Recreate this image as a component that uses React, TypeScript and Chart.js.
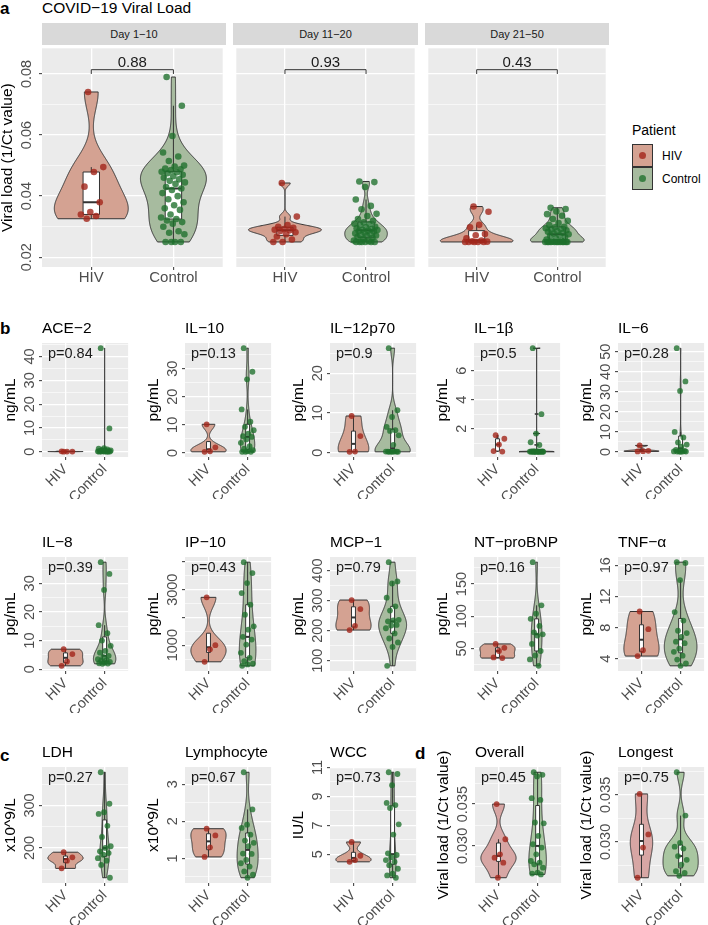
import React, { useEffect, useRef } from 'react';
import { Chart, registerables } from 'chart.js';

Chart.register(...registerables);

const FONT = '"Liberation Sans", Arial, Helvetica, sans-serif';
const GROUPS = ['HIV', 'Control'];

// ---------- panel a : COVID-19 viral load ----------
const FACET_LABELS = ['Day 1−10', 'Day 11−20', 'Day 21−50'];
const FACET_P = ['0.88', '0.93', '0.43'];
const VL_TICKS = [0.02, 0.04, 0.06, 0.08];
const VL_TICK_LABELS = ['0.02', '0.04', '0.06', '0.08'];
const VL_RANGE = [0.0168, 0.0884];

const D1_HIV = [0.0741, 0.0495, 0.0479, 0.0431, 0.038, 0.0348, 0.034, 0.0335, 0.0326];
const D1_CONTROL = [0.079, 0.0696, 0.0597, 0.0543, 0.053, 0.0515, 0.05, 0.0497, 0.049, 0.0488, 0.0485, 0.048, 0.0478, 0.0475, 0.047, 0.0465, 0.046, 0.0455, 0.045, 0.0445, 0.044, 0.043, 0.0425, 0.042, 0.041, 0.04, 0.039, 0.038, 0.037, 0.036, 0.0355, 0.034, 0.033, 0.0325, 0.032, 0.0315, 0.031, 0.03, 0.0285, 0.028, 0.0275, 0.025, 0.025, 0.025, 0.025];
const D2_HIV = [0.0443, 0.0333, 0.0305, 0.03, 0.0296, 0.0292, 0.029, 0.0288, 0.0286, 0.0282, 0.0275, 0.0268, 0.0258, 0.025, 0.025];
const D2_CONTROL = [0.0448, 0.0446, 0.043, 0.0389, 0.0368, 0.0357, 0.0342, 0.0335, 0.0325, 0.0319, 0.0314, 0.031, 0.0308, 0.0305, 0.03, 0.0298, 0.0295, 0.0292, 0.029, 0.0289, 0.0287, 0.0285, 0.0284, 0.028, 0.0278, 0.0276, 0.0273, 0.0271, 0.027, 0.0266, 0.0264, 0.026, 0.0255, 0.0252, 0.025, 0.025, 0.025, 0.025, 0.025, 0.025];
const D3_HIV = [0.0366, 0.0349, 0.0306, 0.0298, 0.0276, 0.0272, 0.0262, 0.0255, 0.0252, 0.0251, 0.025, 0.025, 0.025, 0.025, 0.025];
const D3_CONTROL = [0.0362, 0.0358, 0.035, 0.0341, 0.0336, 0.0325, 0.0319, 0.0312, 0.0305, 0.03, 0.0298, 0.0295, 0.0292, 0.029, 0.0288, 0.0286, 0.0283, 0.028, 0.0278, 0.0275, 0.0272, 0.027, 0.0266, 0.0262, 0.0258, 0.0254, 0.0251, 0.025, 0.025, 0.025, 0.025, 0.025, 0.025, 0.025, 0.025, 0.025, 0.025, 0.025, 0.025];

// ---------- panel b : cytokines ----------
const ACE2_HIV = [0.05, 0.1, 0.12, 0.2];
const ACE2_CONTROL = [43.5, 9.8, 1.5, 1.3, 1.0, 0.8, 0.6, 0.5, 0.4, 0.3, 0.25, 0.2, 0.15, 0.1, 0.1, 0.05, 0.05, 0.0];
const ACE2_TICKS = [0, 10, 20, 30, 40];
const IL10_HIV = [10.2, 2.0, 0.6, 0.4];
const IL10_CONTROL = [37.3, 28.9, 26.2, 15.5, 11.1, 9.3, 8.1, 6.9, 6.0, 5.7, 4.8, 3.6, 2.4, 1.5, 1.0, 0.6, 0.4, 0.4, 0.4];
const IL10_TICKS = [0, 10, 20, 30];
const IL12_HIV = [9.25, 4.2, 0.3, 0.25];
const IL12_CONTROL = [26.3, 10.7, 9.0, 6.5, 5.7, 5.5, 4.4, 2.0, 0.3, 0.3, 0.3, 0.3, 0.3, 0.25, 0.25, 0.25];
const IL12_TICKS = [0, 10, 20];
const IL1B_HIV = [1.55, 1.3, 0.9, 0.45, 0.42];
const IL1B_CONTROL = [7.55, 3.0, 1.66, 1.06, 0.87, 0.428, 0.426, 0.424, 0.422, 0.42, 0.418, 0.416, 0.414, 0.412, 0.41, 0.41, 0.408, 0.406, 0.404, 0.402, 0.4];
const IL1B_TICKS = [2, 4, 6];
const IL6_HIV = [3.3, 0.6, 0.4, 0.3];
const IL6_CONTROL = [51.8, 35.2, 30.5, 10.0, 7.3, 4.8, 3.7, 2.7, 1.0, 0.5, 0.3, 0.3, 0.2, 0.2, 0.2, 0.1];
const IL6_TICKS = [0, 10, 20, 30, 40, 50];
const IL8_HIV = [7.0, 5.3, 2.7, 1.2];
const IL8_CONTROL = [37.4, 33.3, 27.7, 15.4, 12.6, 10.0, 8.2, 6.4, 5.8, 4.7, 4.2, 3.5, 3.2, 3.0, 2.6, 2.3, 2.1, 2.0, 1.9];
const IL8_TICKS = [0, 10, 20, 30];
const IP10_HIV = [2725, 1000, 850, 400];
const IP10_CONTROL = [3994, 3600, 3240, 2880, 2460, 2100, 1680, 1560, 1300, 1200, 1020, 725, 545, 425, 330, 305, 255];
const IP10_TICKS = [1000, 2000, 3000, 4000];
const IP10_TICK_LABELS = ['1000', '', '3000', ''];
const MCP1_HIV = [302, 272, 216, 202];
const MCP1_CONTROL = [428, 364, 357, 310, 281, 267, 236, 234, 231, 219, 217, 208, 191, 174, 161, 146, 83];
const MCP1_TICKS = [100, 200, 300, 400];
const NTPRO_HIV = [57, 51, 46, 36, 35];
const NTPRO_CONTROL = [184, 117, 104, 96, 85, 75, 72, 70, 57, 46, 39, 33, 23];
const NTPRO_TICKS = [50, 100, 150];
const TNF_HIV = [10.07, 7.8, 5.1, 4.35];
const TNF_CONTROL = [16.4, 16.3, 14.1, 10.0, 8.9, 7.6, 7.3, 6.8, 6.2, 6.0, 5.3, 4.9, 4.4, 3.9, 3.4, 3.1];
const TNF_TICKS = [4, 8, 12, 16];

// ---------- panel c : clinical ----------
const LDH_HIV = [190, 178, 170, 152];
const LDH_CONTROL = [378, 304, 284, 280, 252, 226, 204, 200, 192, 188, 184, 176, 170, 160, 130];
const LDH_TICKS = [200, 300];
const LYMPH_HIV = [1.8, 1.62, 1.3, 1.04];
const LYMPH_CONTROL = [3.32, 2.32, 1.91, 1.82, 1.64, 1.48, 1.42, 1.33, 1.13, 1.12, 0.96, 0.87, 0.78, 0.65, 0.56, 0.48];
const LYMPH_TICKS = [1, 2, 3];
const WCC_HIV = [5.85, 4.9, 4.6, 4.48];
const WCC_CONTROL = [10.67, 10.55, 9.78, 8.55, 8.4, 8.2, 7.07, 6.36, 5.07, 4.95, 4.8, 4.6, 4.48, 4.25, 4.0, 3.66, 3.54, 3.38];
const WCC_TICKS = [5, 7, 9, 11];

// ---------- panel d : viral load summary ----------
const OVERALL_HIV = [0.035, 0.0308, 0.029, 0.0286, 0.028, 0.0262];
const OVERALL_CONTROL = [0.0388, 0.0385, 0.0383, 0.0357, 0.0355, 0.0328, 0.0327, 0.0312, 0.0302, 0.0298, 0.029, 0.0282, 0.028, 0.0278, 0.0274, 0.0268, 0.0267, 0.0266];
const OVERALL_TICKS = [0.03, 0.035];
const OVERALL_TICK_LABELS = ['0.030', '0.035'];
const LONGEST_HIV = [0.0351, 0.0308, 0.0294, 0.0262];
const LONGEST_CONTROL = [0.0374, 0.0328, 0.0299, 0.0295, 0.0293, 0.0285, 0.0281, 0.0276, 0.0269, 0.0267, 0.0264];
const LONGEST_TICKS = [0.03, 0.035];
const LONGEST_TICK_LABELS = ['0.030', '0.035'];

// ---------- styles ----------
const PANEL_BG = '#EBEBEB';
const HIV_FILL = '#D4A292';
const CTRL_FILL = '#A7BB9F';
const HIV_FILL_D = '#D7A6A4';
const CTRL_FILL_D = '#A9C6A1';
const HIV_PT = 'rgba(163,38,26,0.8)';
const CTRL_PT = 'rgba(30,112,44,0.78)';
const LINE = '#333333';
const TICK_TEXT = '#4D4D4D';

type Spec = {
  key: string;
  left: number; top: number; width: number; height: number;
  yw: number; xh: number; topPad: number;
  title?: string; unit?: string; pText?: string; bracket?: string;
  hiv: number[]; control: number[];
  ticks: number[]; tickLabels: string[];
  yMin: number; yMax: number;
  rot: number; boxW: number; pointR: number; jitterW: number;
  hivFill: string; ctrlFill: string; showY: boolean;
  xFont: number; yFont: number; labOff: number; titleOff: number;
};

// ---------- statistics helpers (computed from the data arrays) ----------
function quantile(sorted: number[], p: number) {
  const h = (sorted.length - 1) * p;
  const lo = Math.floor(h);
  const hi = Math.ceil(h);
  return sorted[lo] + (h - lo) * (sorted[hi] - sorted[lo]);
}
function bwNrd0(x: number[]) {
  const n = x.length;
  const m = x.reduce((s, v) => s + v, 0) / n;
  const sd = Math.sqrt(x.reduce((s, v) => s + (v - m) * (v - m), 0) / (n - 1));
  const s = [...x].sort((a, b) => a - b);
  const iqr = quantile(s, 0.75) - quantile(s, 0.25);
  let lo = Math.min(sd, iqr / 1.34);
  if (!(lo > 0)) lo = sd || Math.abs(s[0]) || 1;
  return 0.9 * lo * Math.pow(n, -0.2);
}
function kde(x: number[]) {
  const lo = Math.min(...x);
  const hi = Math.max(...x);
  if (!(hi > lo)) return null;
  const bw = bwNrd0(x);
  const N = 256;
  const ys: number[] = [];
  const ds: number[] = [];
  for (let i = 0; i < N; i++) {
    const y = lo + ((hi - lo) * i) / (N - 1);
    let d = 0;
    for (const v of x) {
      const z = (y - v) / bw;
      d += Math.exp(-0.5 * z * z);
    }
    ys.push(y);
    ds.push(d / (x.length * bw * Math.sqrt(2 * Math.PI)));
  }
  return { y: ys, d: ds };
}
function boxStats(x: number[]) {
  const s = [...x].sort((a, b) => a - b);
  const q1 = quantile(s, 0.25);
  const q2 = quantile(s, 0.5);
  const q3 = quantile(s, 0.75);
  const iqr = q3 - q1;
  const upper = Math.max(...s.filter((v) => v <= q3 + 1.5 * iqr));
  const lower = Math.min(...s.filter((v) => v >= q1 - 1.5 * iqr));
  return { q1, q2, q3, upper, lower };
}
function expandRange(a: number[], b: number[]) {
  const lo = Math.min(...a, ...b);
  const hi = Math.max(...a, ...b);
  const pad = (hi - lo) * 0.05;
  return [lo - pad, hi + pad];
}
const jit = (i: number, w: number) => ((((i * 0.6180339887 + 0.37) % 1) * 2) - 1) * w;

function makePlugin(spec: Spec) {
  return {
    id: 'panelDeco',
    beforeDraw(chart: any) {
      const { ctx, chartArea: a } = chart;
      ctx.save();
      ctx.fillStyle = PANEL_BG;
      ctx.fillRect(a.left, a.top, a.right - a.left, a.bottom - a.top);
      ctx.restore();
    },
    beforeDatasetsDraw(chart: any) {
      const { ctx, chartArea: a, scales } = chart;
      const xs = scales.x;
      const ys = scales.y;
      const groups = [
        { x: 1, v: spec.hiv, fill: spec.hivFill },
        { x: 2, v: spec.control, fill: spec.ctrlFill },
      ];
      const dens = groups.map((g) => kde(g.v));
      let maxD = 0;
      dens.forEach((d) => { if (d) maxD = Math.max(maxD, ...d.d); });
      ctx.save();
      ctx.beginPath();
      ctx.rect(a.left, a.top, a.right - a.left, a.bottom - a.top);
      ctx.clip();
      groups.forEach((g, gi) => {
        const d = dens[gi];
        if (d) {
          ctx.beginPath();
          d.y.forEach((yv, i) => {
            const px = xs.getPixelForValue(g.x - (0.45 * d.d[i]) / maxD);
            const py = ys.getPixelForValue(yv);
            if (i) ctx.lineTo(px, py); else ctx.moveTo(px, py);
          });
          for (let i = d.y.length - 1; i >= 0; i--) {
            ctx.lineTo(xs.getPixelForValue(g.x + (0.45 * d.d[i]) / maxD), ys.getPixelForValue(d.y[i]));
          }
          ctx.closePath();
          ctx.fillStyle = g.fill;
          ctx.fill();
          ctx.strokeStyle = LINE;
          ctx.lineWidth = 1;
          ctx.lineJoin = 'round';
          ctx.stroke();
        }
      });
      groups.forEach((g) => {
        const b = boxStats(g.v);
        const cx = xs.getPixelForValue(g.x);
        const xl = xs.getPixelForValue(g.x - spec.boxW / 2);
        const xr = xs.getPixelForValue(g.x + spec.boxW / 2);
        ctx.strokeStyle = LINE;
        ctx.lineWidth = 1;
        ctx.beginPath();
        ctx.moveTo(cx, ys.getPixelForValue(b.q3));
        ctx.lineTo(cx, ys.getPixelForValue(b.upper));
        ctx.moveTo(cx, ys.getPixelForValue(b.q1));
        ctx.lineTo(cx, ys.getPixelForValue(b.lower));
        ctx.stroke();
        const yt = ys.getPixelForValue(b.q3);
        const yb = ys.getPixelForValue(b.q1);
        ctx.fillStyle = '#FFFFFF';
        ctx.fillRect(xl, yt, xr - xl, yb - yt);
        ctx.strokeRect(xl, yt, xr - xl, yb - yt);
        ctx.lineWidth = 2;
        ctx.beginPath();
        const ym = ys.getPixelForValue(b.q2);
        ctx.moveTo(xl, ym);
        ctx.lineTo(xr, ym);
        ctx.stroke();
      });
      ctx.restore();
    },
    afterDraw(chart: any) {
      const { ctx, chartArea: a, scales } = chart;
      const xs = scales.x;
      const ys = scales.y;
      ctx.save();
      if (spec.showY) {
        ctx.font = `${spec.yFont}px ${FONT}`;
        ctx.fillStyle = TICK_TEXT;
        ctx.textAlign = 'center';
        ctx.textBaseline = 'middle';
        spec.ticks.forEach((v, i) => {
          const lab = spec.tickLabels[i];
          if (!lab) return;
          ctx.save();
          ctx.translate(a.left - spec.labOff, ys.getPixelForValue(v));
          ctx.rotate(-Math.PI / 2);
          ctx.fillText(lab, 0, 0);
          ctx.restore();
        });
      }
      if (spec.pText) {
        ctx.font = `14.5px ${FONT}`;
        ctx.fillStyle = '#1A1A1A';
        ctx.textAlign = 'left';
        ctx.textBaseline = 'middle';
        ctx.fillText(spec.pText, a.left + 6, a.top + 11);
      }
      if (spec.bracket) {
        const x1 = xs.getPixelForValue(1);
        const x2 = xs.getPixelForValue(2);
        const y0 = ys.getPixelForValue(0.08);
        const y1 = ys.getPixelForValue(0.0814);
        ctx.strokeStyle = LINE;
        ctx.lineWidth = 1;
        ctx.beginPath();
        ctx.moveTo(x1, y0);
        ctx.lineTo(x1, y1);
        ctx.lineTo(x2, y1);
        ctx.lineTo(x2, y0);
        ctx.stroke();
        ctx.font = `15px ${FONT}`;
        ctx.fillStyle = '#1A1A1A';
        ctx.textAlign = 'center';
        ctx.textBaseline = 'middle';
        ctx.fillText(spec.bracket, (x1 + x2) / 2, ys.getPixelForValue(0.0836));
      }
      ctx.restore();
    },
  };
}

function allTicks(spec: Spec) {
  const majors = spec.ticks;
  const step = majors.length > 1 ? majors[1] - majors[0] : 1;
  const out: any[] = majors.filter((v) => v >= spec.yMin && v <= spec.yMax).map((v) => ({ value: v, minor: false }));
  for (let v = majors[0] - step / 2 - step * 4; v <= spec.yMax; v += step) {
    if (v >= spec.yMin) out.push({ value: v, minor: true });
  }
  return out.sort((p, q) => p.value - q.value);
}

function buildConfig(spec: Spec): any {
  const ticks = allTicks(spec);
  return {
    type: 'scatter',
    data: {
      datasets: [
        {
          label: GROUPS[0],
          data: spec.hiv.map((v, i) => ({ x: 1 + jit(i, spec.jitterW), y: v })),
          backgroundColor: HIV_PT,
          borderWidth: 0,
          pointRadius: spec.pointR,
          pointHoverRadius: spec.pointR,
        },
        {
          label: GROUPS[1],
          data: spec.control.map((v, i) => ({ x: 2 + jit(i + 3, spec.jitterW), y: v })),
          backgroundColor: CTRL_PT,
          borderWidth: 0,
          pointRadius: spec.pointR,
          pointHoverRadius: spec.pointR,
        },
      ],
    },
    options: {
      animation: false,
      responsive: false,
      events: [],
      layout: { padding: 0 },
      plugins: {
        legend: { display: false },
        tooltip: { enabled: false },
        title: spec.title
          ? {
              display: true,
              text: spec.title,
              align: 'start',
              fullSize: false,
              color: '#000000',
              font: { family: FONT, size: 15.5, weight: 'normal', lineHeight: 1.2 },
              padding: { top: 2, bottom: spec.topPad - 2 - 18.6 },
            }
          : { display: false },
      },
      scales: {
        x: {
          type: 'linear',
          min: 0.4,
          max: 2.6,
          bounds: 'data',
          afterBuildTicks: (s: any) => { s.ticks = [{ value: 1 }, { value: 2 }]; },
          afterFit: (s: any) => { s.height = spec.xh; s.paddingLeft = 0; s.paddingRight = 0; },
          ticks: {
            autoSkip: false,
            callback: (v: number) => (v === 1 ? GROUPS[0] : GROUPS[1]),
            color: TICK_TEXT,
            font: { family: FONT, size: spec.xFont, lineHeight: 1 },
            minRotation: spec.rot,
            maxRotation: spec.rot,
            padding: spec.rot ? 2 : 0,
          },
          grid: { color: '#FFFFFF', lineWidth: 1.3, tickColor: LINE, tickLength: 3, tickWidth: 1 },
          border: { display: false },
        },
        y: {
          type: 'linear',
          min: spec.yMin,
          max: spec.yMax,
          bounds: 'data',
          afterBuildTicks: (s: any) => { s.ticks = ticks.map((t) => ({ ...t })); },
          afterFit: (s: any) => { s.width = spec.yw; s.paddingTop = 0; s.paddingBottom = 0; },
          ticks: { display: false },
          grid: {
            color: '#FFFFFF',
            lineWidth: (c: any) => (c.tick && c.tick.minor ? 0.6 : 1.3),
            tickColor: (c: any) => (c.tick && c.tick.minor ? 'rgba(0,0,0,0)' : LINE),
            tickLength: spec.showY ? 3 : 0,
            drawTicks: spec.showY,
            tickWidth: 1,
          },
          border: { display: false },
          title: spec.showY
            ? {
                display: true,
                text: spec.unit,
                color: '#000000',
                font: { family: FONT, size: 15.5, lineHeight: 1 },
                padding: { top: Math.max(0, spec.yw - spec.titleOff - 7.75), bottom: 0 },
              }
            : { display: false },
        },
      },
    },
    plugins: [makePlugin(spec)],
  };
}

// ---------- layout ----------
const FACET_X = [42, 233, 425];
const FACET_W = [184, 185, 184];
const COL_X = [42, 185, 330, 474, 618];
const COL_X3 = [42, 185, 330, 475, 618];
const ROW_Y = [343, 557, 767];
const ROW_H = [114, 114, 116];

const FACET_DATA = [
  [D1_HIV, D1_CONTROL],
  [D2_HIV, D2_CONTROL],
  [D3_HIV, D3_CONTROL],
];

const facetSpecs: Spec[] = FACET_DATA.map(([h, c], i) => ({
  key: 'a' + i,
  left: FACET_X[i], top: 45, width: FACET_W[i], height: 222,
  yw: i === 0 ? 42 : 0, xh: 24, topPad: 0,
  unit: 'Viral load (1/Ct value)', bracket: FACET_P[i],
  hiv: h, control: c,
  ticks: VL_TICKS, tickLabels: VL_TICK_LABELS,
  yMin: VL_RANGE[0], yMax: VL_RANGE[1],
  rot: 0, boxW: 0.2, pointR: 3.3, jitterW: 0.15,
  hivFill: HIV_FILL, ctrlFill: CTRL_FILL, showY: i === 0,
  xFont: 15, yFont: 14.5, labOff: 15, titleOff: 34.5,
}));

type Small = [string, string, string, number[], number[], number[], string[] | null, number, number, string, string];
const numLabels = (t: number[]) => t.map((v) => String(v));

const SMALL: Small[] = [
  ['ACE−2', 'ng/mL', 'p=0.84', ACE2_HIV, ACE2_CONTROL, ACE2_TICKS, null, 0, 0, HIV_FILL, CTRL_FILL],
  ['IL−10', 'pg/mL', 'p=0.13', IL10_HIV, IL10_CONTROL, IL10_TICKS, null, 0, 1, HIV_FILL, CTRL_FILL],
  ['IL−12p70', 'pg/mL', 'p=0.9', IL12_HIV, IL12_CONTROL, IL12_TICKS, null, 0, 2, HIV_FILL, CTRL_FILL],
  ['IL−1β', 'pg/mL', 'p=0.5', IL1B_HIV, IL1B_CONTROL, IL1B_TICKS, null, 0, 3, HIV_FILL, CTRL_FILL],
  ['IL−6', 'pg/mL', 'p=0.28', IL6_HIV, IL6_CONTROL, IL6_TICKS, null, 0, 4, HIV_FILL, CTRL_FILL],
  ['IL−8', 'pg/mL', 'p=0.39', IL8_HIV, IL8_CONTROL, IL8_TICKS, null, 1, 0, HIV_FILL, CTRL_FILL],
  ['IP−10', 'pg/mL', 'p=0.43', IP10_HIV, IP10_CONTROL, IP10_TICKS, IP10_TICK_LABELS, 1, 1, HIV_FILL, CTRL_FILL],
  ['MCP−1', 'pg/mL', 'p=0.79', MCP1_HIV, MCP1_CONTROL, MCP1_TICKS, null, 1, 2, HIV_FILL, CTRL_FILL],
  ['NT−proBNP', 'pg/mL', 'p=0.16', NTPRO_HIV, NTPRO_CONTROL, NTPRO_TICKS, null, 1, 3, HIV_FILL, CTRL_FILL],
  ['TNF−α', 'pg/mL', 'p=0.97', TNF_HIV, TNF_CONTROL, TNF_TICKS, null, 1, 4, HIV_FILL, CTRL_FILL],
  ['LDH', 'x10^9/L', 'p=0.27', LDH_HIV, LDH_CONTROL, LDH_TICKS, null, 2, 0, HIV_FILL, CTRL_FILL],
  ['Lymphocyte', 'x10^9/L', 'p=0.67', LYMPH_HIV, LYMPH_CONTROL, LYMPH_TICKS, null, 2, 1, HIV_FILL, CTRL_FILL],
  ['WCC', 'IU/L', 'p=0.73', WCC_HIV, WCC_CONTROL, WCC_TICKS, null, 2, 2, HIV_FILL, CTRL_FILL],
  ['Overall', 'Viral load (1/Ct value)', 'p=0.45', OVERALL_HIV, OVERALL_CONTROL, OVERALL_TICKS, OVERALL_TICK_LABELS, 2, 3, HIV_FILL_D, CTRL_FILL_D],
  ['Longest', 'Viral load (1/Ct value)', 'p=0.75', LONGEST_HIV, LONGEST_CONTROL, LONGEST_TICKS, LONGEST_TICK_LABELS, 2, 4, HIV_FILL_D, CTRL_FILL_D],
];

const smallSpecs: Spec[] = SMALL.map(([title, unit, p, h, c, t, tl, row, col, hf, cf]) => {
  const [lo, hi] = expandRange(h, c);
  const left = row === 2 ? COL_X3[col] : COL_X[col];
  return {
    key: title,
    left, top: ROW_Y[row], width: 89, height: ROW_H[row],
    yw: 42, xh: 42, topPad: 26,
    title, unit, pText: p,
    hiv: h, control: c,
    ticks: t, tickLabels: tl || numLabels(t),
    yMin: lo, yMax: hi,
    rot: 45, boxW: 0.1, pointR: 2.9, jitterW: 0.18,
    hivFill: hf, ctrlFill: cf, showY: true,
    xFont: 14.5, yFont: 14.5, labOff: 12, titleOff: 31,
  };
});

function Panel({ spec }: { spec: Spec }) {
  const ref = useRef<HTMLCanvasElement>(null);
  useEffect(() => {
    const chart = new Chart(ref.current as HTMLCanvasElement, buildConfig(spec));
    return () => chart.destroy();
  }, [spec]);
  const w = spec.yw + spec.width;
  const h = spec.topPad + spec.height + spec.xh;
  return (
    <canvas
      ref={ref}
      width={w}
      height={h}
      style={{ position: 'absolute', left: spec.left - spec.yw, top: spec.top - spec.topPad, width: w, height: h }}
    />
  );
}

const T = ({ s, style }: { s: string; style: React.CSSProperties }) => (
  <div style={{ position: 'absolute', whiteSpace: 'nowrap', fontFamily: FONT, lineHeight: 1, color: '#000', ...style }}>{s}</div>
);

export default function App() {
  return (
    <div style={{ position: 'absolute', left: 0, top: 0, width: 708, height: 925, overflow: 'hidden', background: '#fff' }}>
      <T s="a" style={{ left: 0, top: 0, fontSize: 17, fontWeight: 'bold' }} />
      <T s="COVID−19 Viral Load" style={{ left: 42, top: 0, fontSize: 15.5 }} />
      {FACET_LABELS.map((f, i) => (
        <div
          key={f}
          style={{
            position: 'absolute', left: FACET_X[i], top: 23, width: FACET_W[i], height: 22, background: '#D9D9D9',
            display: 'flex', alignItems: 'center', justifyContent: 'center', fontFamily: FONT, fontSize: 11, color: '#1A1A1A',
          }}
        >
          {f}
        </div>
      ))}
      <T s="Patient" style={{ left: 632, top: 123, fontSize: 14 }} />
      {GROUPS.map((g, i) => (
        <React.Fragment key={g}>
          <div
            style={{
              position: 'absolute', left: 632, top: 144 + i * 23, width: 21, height: 23, boxSizing: 'border-box',
              border: `1px solid ${LINE}`, background: i === 0 ? HIV_FILL : CTRL_FILL,
            }}
          >
            <div
              style={{
                position: 'absolute', left: 6, top: 7, width: 7, height: 7, borderRadius: 3.5,
                background: i === 0 ? HIV_PT : CTRL_PT,
              }}
            />
          </div>
          <T s={g} style={{ left: 662, top: 149.5 + i * 23, fontSize: 12 }} />
        </React.Fragment>
      ))}
      <T s="b" style={{ left: 0, top: 320, fontSize: 17, fontWeight: 'bold' }} />
      <T s="c" style={{ left: 0, top: 747, fontSize: 17, fontWeight: 'bold' }} />
      <T s="d" style={{ left: 415, top: 745, fontSize: 17, fontWeight: 'bold' }} />
      {facetSpecs.map((s) => (
        <Panel key={s.key} spec={s} />
      ))}
      {smallSpecs.map((s) => (
        <Panel key={s.key} spec={s} />
      ))}
    </div>
  );
}
